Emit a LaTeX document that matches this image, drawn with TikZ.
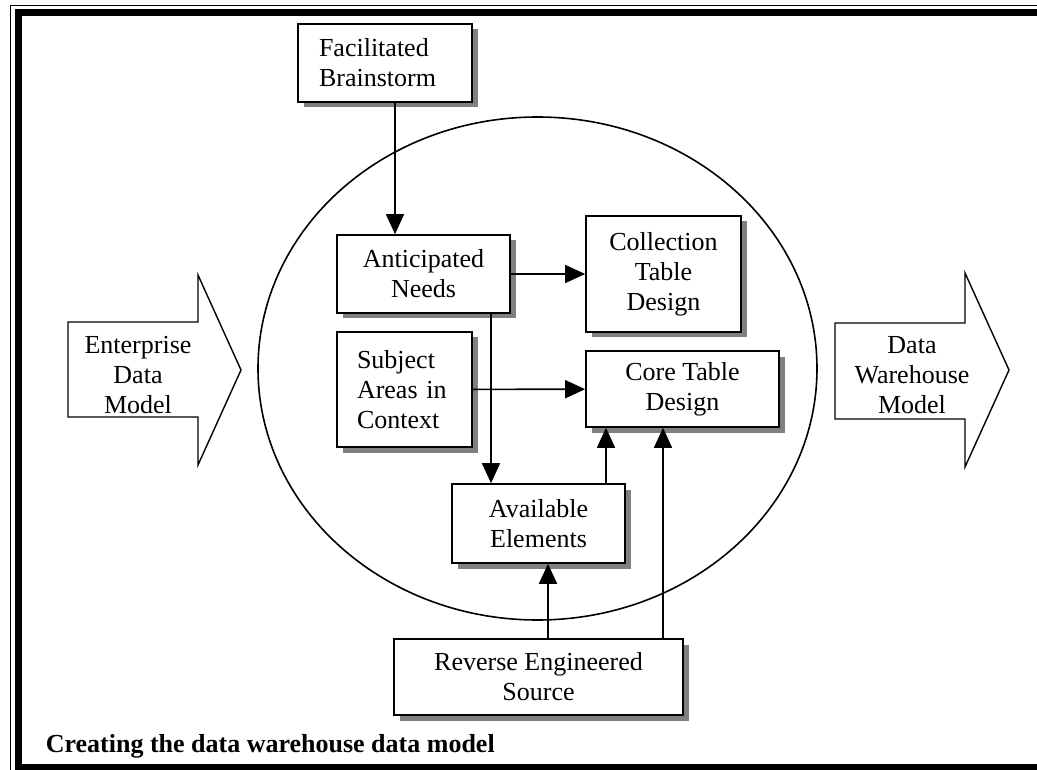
\documentclass[tikz,border=0pt]{standalone}
\usepackage{fontspec}
\setmainfont{Liberation Serif}
\usetikzlibrary{arrows.meta,shadows}
\tikzset{every node/.style={font=\fontsize{26}{30}\selectfont, align=center, inner sep=0pt},
  box/.style={draw, fill=white, drop shadow={shadow xshift=5.5pt, shadow yshift=-5.5pt, opacity=1, fill=gray}},
  link/.style={-{Triangle[length=20pt,width=18pt]}},
  bigarrow/.style={draw, line width=1.4pt}}

\begin{document}
\begin{tikzpicture}[x=1pt,y=-1pt,line width=1.6pt]
   \clip (0,0) rectangle (1037,770);
   \fill[white] (0,0) rectangle (1037,770);
   \draw[line width=1.2pt] (10.5,5.5) rectangle (1100,800);
   \draw[line width=7pt] (18,13) rectangle (1090,767);

   \draw (537.5,368.5) ellipse [x radius=279.5, y radius=251.5];

   \draw[bigarrow] (68,322) -- (198,322) -- (198,275) -- (241,370)
     -- (198,465) -- (198,417) -- (68,417) -- cycle;
   \node (edm) at (138,375) {Enterprise\\Data\\Model};
   \draw[bigarrow] (835,323) -- (965,323) -- (965,273) -- (1009,370)
     -- (965,467) -- (965,419) -- (835,419) -- cycle;
   \node (dwm) at (912,375) {Data\\Warehouse\\Model};

   \node[box, minimum width=174, minimum height=78, text width=132, align=left]
     (fb) at (385.0, 63.0) {Facilitated\\Brainstorm};
   \node[box, minimum width=173, minimum height=78]
     (an) at (423.5,274.0) {Anticipated\\Needs};
   \node[box, minimum width=155, minimum height=116]
     (ct) at (663.5,274.0) {Collection\\Table\\Design};
   \node[box, minimum width=135, minimum height=115, text width=95, align=left]
     (sa) at (404.5,389.5) {Subject\\Areas in\\Context};
   \node[box, minimum width=193, minimum height=76]
     (co) at (682.5,389.0) {Core Table\\Design};
   \node[box, minimum width=173, minimum height=79]
     (ae) at (538.5,523.5) {Available\\Elements};
   \node[box, minimum width=289, minimum height=76]
     (re) at (538.5,677.0) {Reverse Engineered\\Source};

   \draw[link] (395,0 |- fb.south) -- (395,0 |- an.north);
   \draw[link] (an) -- (ct);
   \draw[link] (sa) -- (co);
   \draw[link] (491,0 |- an.south) -- (491,0 |- ae.north);
   \draw[link] (606,0 |- ae.north) -- (606,0 |- co.south);
   \draw[link] (548,0 |- re.north) -- (548,0 |- ae.south);
   \draw[link] (663,0 |- re.north) -- (663,0 |- co.south);

   \node[anchor=base west, font=\bfseries\fontsize{26}{30}\selectfont]
     (cap) at (45,752) {Creating the data warehouse data model};
\end{tikzpicture}
\end{document}
